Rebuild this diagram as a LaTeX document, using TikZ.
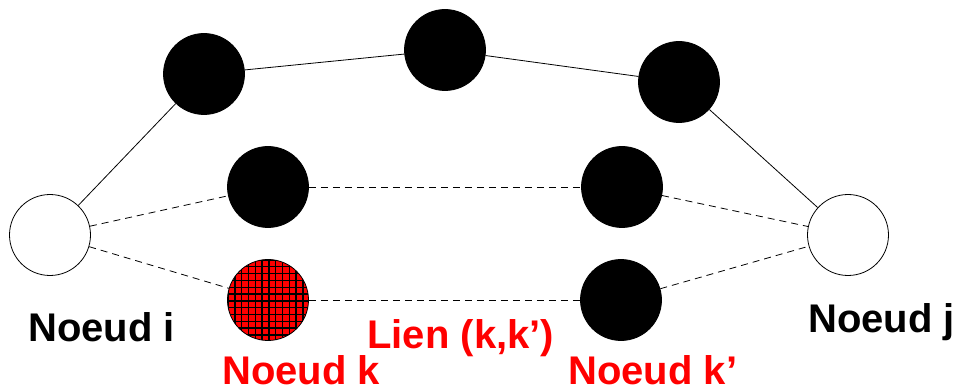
\documentclass[tikz,border=0pt]{standalone}
\usepackage{fontspec}
\setmainfont{Liberation Sans}
\begin{document}
\begin{tikzpicture}[x=1pt, y=-1pt, line width=0.8pt,
		noeud/.style={circle, draw, minimum size=81pt, inner sep=0pt},
		plein/.style={noeud, fill=black},
		etiq/.style={anchor=base west, inner sep=0pt, text depth=0pt, font=\bfseries\fontsize{40}{48}\selectfont}]
		\useasboundingbox (0,0) rectangle (956,390);
		\node[noeud] (i) at (50,235) {};
		\node[noeud] (j) at (848,235) {};
		\node[plein] (t1) at (204,74) {};
		\node[plein] (t2) at (445,50) {};
		\node[plein] (t3) at (679,82) {};
		\node[plein] (m1) at (268,187) {};
		\node[plein] (m2) at (622,187) {};
		\node[plein] (kk) at (621,300) {};
		% noeud k quadrille
		\begin{scope}
			\clip (268,300) circle (40.5);
			\fill[red] (226,258) rectangle (310,342);
			\foreach \t in {0,...,12}{
				\draw[line width=1.4pt] ({228+6.8*\t},258) -- ({228+6.8*\t},342);
				\draw[line width=1.4pt] (226,{260+6.8*\t}) -- (310,{260+6.8*\t});
			}
		\end{scope}
		\node[noeud] (k) at (268,300) {};
		\foreach \a/\b in {i/t1, t1/t2, t2/t3, t3/j}
			\draw (\a) -- (\b);
		\foreach \a/\b in {i/m1, m1/m2, m2/j, i/k, k/kk, kk/j}
			\draw[dash pattern=on 7pt off 5pt] (\a) -- (\b);
		\node[etiq] (li) at (28,341) {Noeud i};
		\node[etiq] (lj) at (808,332) {Noeud j};
		\node[etiq, red] (lk) at (222,384) {Noeud k};
		\node[etiq, red] (lkk) at (568,384) {Noeud k’};
		\node[etiq, red] (lien) at (367,348) {Lien (k,k’)};
	\end{tikzpicture}
\end{document}
